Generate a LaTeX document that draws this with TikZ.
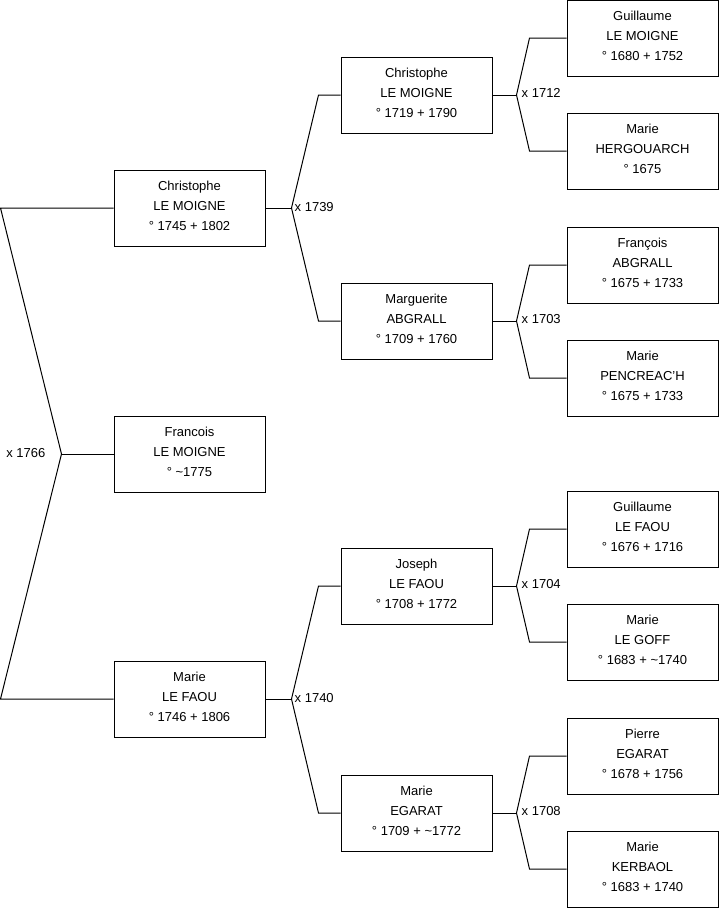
\documentclass[tikz,border=0pt]{standalone}
\usepackage{fontspec}
\setmainfont{Liberation Sans}
\usetikzlibrary{positioning,calc}
\tikzset{
  personbox/.style={
    rectangle, draw=black, fill=white, line width=1pt,
    minimum width=151pt, minimum height=76pt,
    font=\fontsize{13}{20}\selectfont, align=center,
    text depth=4pt, inner sep=0pt
  },
  kinline/.style={
    line width=1pt, color=black
  },
  weddinglabel/.style={
    font=\fontsize{13}{15}\selectfont, inner sep=0pt
  },
}

\begin{document}
\begin{tikzpicture}[x=1pt,y=-1pt]
  \useasboundingbox (0,0) rectangle (719,908);

  % generation 1
  \node[personbox] (christophe1) at (189.5,208) {Christophe\\LE MOIGNE\\° 1745 + 1802};
  \node[personbox] (francois)    at (189.5,454) {Francois\\LE MOIGNE\\° \textasciitilde1775};
  \node[personbox] (mariefaou)   at (189.5,699) {Marie\\LE FAOU\\° 1746 + 1806};

  % generation 2
  \node[personbox] (christophe2) at (416.5,95)  {Christophe\\LE MOIGNE\\° 1719 + 1790};
  \node[personbox] (marguerite)  at (416.5,321) {Marguerite\\ABGRALL\\° 1709 + 1760};
  \node[personbox] (joseph)      at (416.5,586) {Joseph\\LE FAOU\\° 1708 + 1772};
  \node[personbox] (marieegarat) at (416.5,813) {Marie\\EGARAT\\° 1709 + \textasciitilde1772};

  % generation 3
  \node[personbox] (guillaume1)  at (642.5,38)  {Guillaume\\LE MOIGNE\\° 1680 + 1752};
  \node[personbox] (hergouarch)  at (642.5,151) {Marie\\HERGOUARCH\\° 1675};
  \node[personbox] (francoisab)  at (642.5,265) {François\\ABGRALL\\° 1675 + 1733};
  \node[personbox] (pencreach)   at (642.5,378) {Marie\\PENCREAC'H\\° 1675 + 1733};
  \node[personbox] (guillaume2)  at (642.5,529) {Guillaume\\LE FAOU\\° 1676 + 1716};
  \node[personbox] (legoff)      at (642.5,642) {Marie\\LE GOFF\\° 1683 + \textasciitilde1740};
  \node[personbox] (pierre)      at (642.5,756) {Pierre\\EGARAT\\° 1678 + 1756};
  \node[personbox] (kerbaol)     at (642.5,869) {Marie\\KERBAOL\\° 1683 + 1740};

  % couple of generation 1
  \coordinate (w0) at ([xshift=-52pt]francois.west);
  \draw[kinline] (w0) -- (francois.west);
  \draw[kinline] (christophe1.west) -- ([xshift=-113pt]christophe1.west)
    -- (w0) -- ([xshift=-113pt]mariefaou.west) -- (mariefaou.west);
  \node[weddinglabel, anchor=east] (x1766) at ([xshift=-16pt,yshift=1pt]w0) {x 1766};

  % couples of generation 2
  \coordinate (w1) at ([xshift=26pt]christophe1.east);
  \draw[kinline] (christophe1.east) -- (w1);
  \draw[kinline] (christophe2.west) -- ([xshift=-22pt]christophe2.west)
    -- (w1) -- ([xshift=-22pt]marguerite.west) -- (marguerite.west);
  \node[weddinglabel, anchor=west] (x1739) at ([xshift=3pt,yshift=1pt]w1) {x 1739};

  \coordinate (w2) at ([xshift=26pt]mariefaou.east);
  \draw[kinline] (mariefaou.east) -- (w2);
  \draw[kinline] (joseph.west) -- ([xshift=-22pt]joseph.west)
    -- (w2) -- ([xshift=-22pt]marieegarat.west) -- (marieegarat.west);
  \node[weddinglabel, anchor=west] (x1740) at ([xshift=3pt,yshift=1pt]w2) {x 1740};

  % couples of generation 3
  \coordinate (w3) at ([xshift=24pt]christophe2.east);
  \draw[kinline] (christophe2.east) -- (w3);
  \draw[kinline] (guillaume1.west) -- ([xshift=-37pt]guillaume1.west)
    -- (w3) -- ([xshift=-37pt]hergouarch.west) -- (hergouarch.west);
  \node[weddinglabel, anchor=west] (x1712) at ([xshift=5pt,yshift=2pt]w3) {x 1712};

  \coordinate (w4) at ([xshift=24pt]marguerite.east);
  \draw[kinline] (marguerite.east) -- (w4);
  \draw[kinline] (francoisab.west) -- ([xshift=-37pt]francoisab.west)
    -- (w4) -- ([xshift=-37pt]pencreach.west) -- (pencreach.west);
  \node[weddinglabel, anchor=west] (x1703) at ([xshift=5pt,yshift=2pt]w4) {x 1703};

  \coordinate (w5) at ([xshift=24pt]joseph.east);
  \draw[kinline] (joseph.east) -- (w5);
  \draw[kinline] (guillaume2.west) -- ([xshift=-37pt]guillaume2.west)
    -- (w5) -- ([xshift=-37pt]legoff.west) -- (legoff.west);
  \node[weddinglabel, anchor=west] (x1704) at ([xshift=5pt,yshift=2pt]w5) {x 1704};

  \coordinate (w6) at ([xshift=24pt]marieegarat.east);
  \draw[kinline] (marieegarat.east) -- (w6);
  \draw[kinline] (pierre.west) -- ([xshift=-37pt]pierre.west)
    -- (w6) -- ([xshift=-37pt]kerbaol.west) -- (kerbaol.west);
  \node[weddinglabel, anchor=west] (x1708) at ([xshift=5pt,yshift=2pt]w6) {x 1708};
\end{tikzpicture}
\end{document}
